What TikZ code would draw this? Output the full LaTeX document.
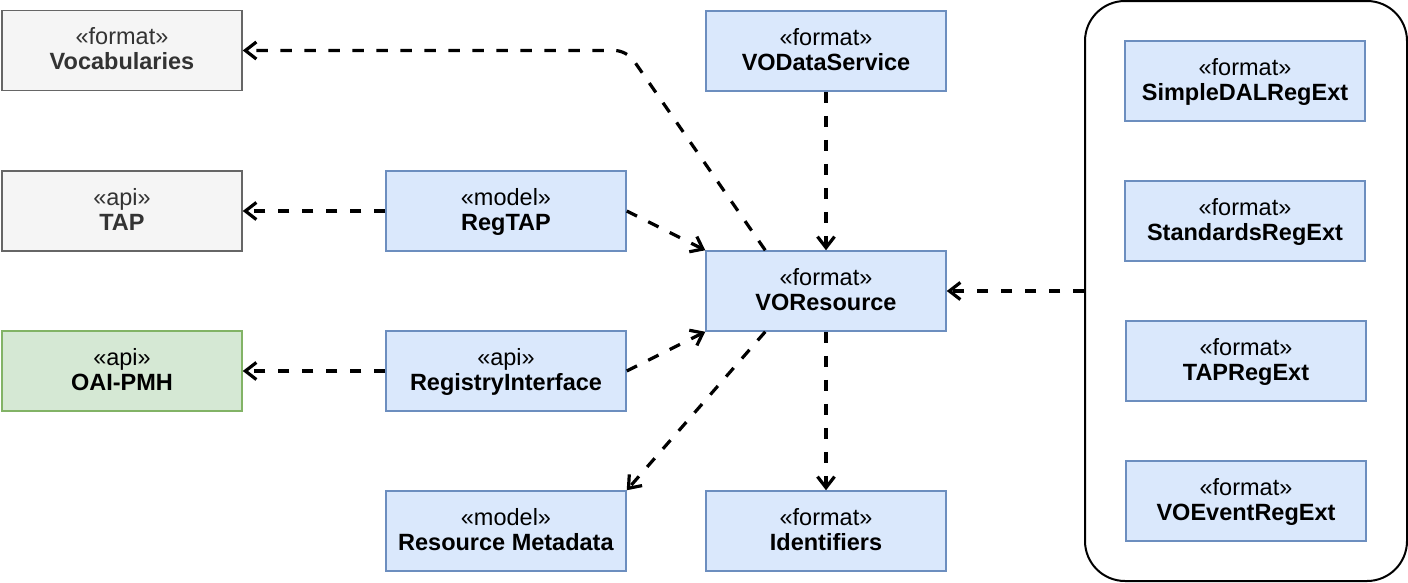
\documentclass[tikz,border=0pt]{standalone}
\usepackage{fontspec}
\setmainfont{Liberation Sans}
\usetikzlibrary{arrows.meta}
\definecolor{bluefill}{HTML}{DAE8FC}
\definecolor{bluedraw}{HTML}{6C8EBF}
\definecolor{grayfill}{HTML}{F5F5F5}
\definecolor{graydraw}{HTML}{666666}
\definecolor{graytext}{HTML}{333333}
\definecolor{greenfill}{HTML}{D5E8D4}
\definecolor{greendraw}{HTML}{82B366}
\begin{document}
\begin{tikzpicture}[x=1pt,y=-1pt,
 box/.style={draw=bluedraw,fill=bluefill,line width=1.5pt,minimum width=240pt,minimum height=80pt,inner sep=0pt,text depth=4pt,align=center,font=\fontsize{23.5}{25}\selectfont},
 graybox/.style={box,draw=graydraw,fill=grayfill,text=graytext},
 greenbox/.style={box,draw=greendraw,fill=greenfill},
 dep/.style={line width=3.2pt,dash pattern=on 11.5pt off 12.5pt,-{Straight Barb[length=11pt,width=17pt]}}]
\useasboundingbox (0,0) rectangle (1408,582);
\node[graybox] (vocab) at (122,50.5) {«format»\\\textbf{Vocabularies}};
\node[graybox] (tap) at (122,211) {«api»\\\textbf{TAP}};
\node[greenbox] (oai) at (122,371) {«api»\\\textbf{OAI-PMH}};
\node[box] (regtap) at (506,211) {«model»\\\textbf{RegTAP}};
\node[box] (regint) at (506,371) {«api»\\\textbf{RegistryInterface}};
\node[box] (resmeta) at (506,531) {«model»\\\textbf{Resource Metadata}};
\node[box] (vods) at (826,51) {«format»\\\textbf{VODataService}};
\node[box] (vores) at (826,291) {«format»\\\textbf{VOResource}};
\node[box] (ident) at (826,531) {«format»\\\textbf{Identifiers}};
\node[draw,line width=2pt,rounded corners=40pt,minimum width=322pt,minimum height=580pt,inner sep=0pt] (grp) at (1246,291) {};
\node[box] (sdal) at (1245,81) {«format»\\\textbf{SimpleDALRegExt}};
\node[box] (std) at (1245,221) {«format»\\\textbf{StandardsRegExt}};
\node[box] (tapreg) at (1246,361) {«format»\\\textbf{TAPRegExt}};
\node[box] (voev) at (1246,501) {«format»\\\textbf{VOEventRegExt}};
\draw[dep,rounded corners=12pt] ([xshift=60pt]vores.north west) -- (regtap.east |- vocab.east) -- (vocab.east);
\draw[dep] (regtap.west) -- (tap.east);
\draw[dep] (regtap.east) -- (vores.north west);
\draw[dep] (regint.west) -- (oai.east);
\draw[dep] (regint.east) -- (vores.south west);
\draw[dep] ([xshift=60pt]vores.south west) -- (resmeta.north east);
\draw[dep] (vores.south) -- (ident.north);
\draw[dep] (vods.south) -- (vores.north);
\draw[dep] (grp.west |- vores.east) -- (vores.east);
\end{tikzpicture}
\end{document}
